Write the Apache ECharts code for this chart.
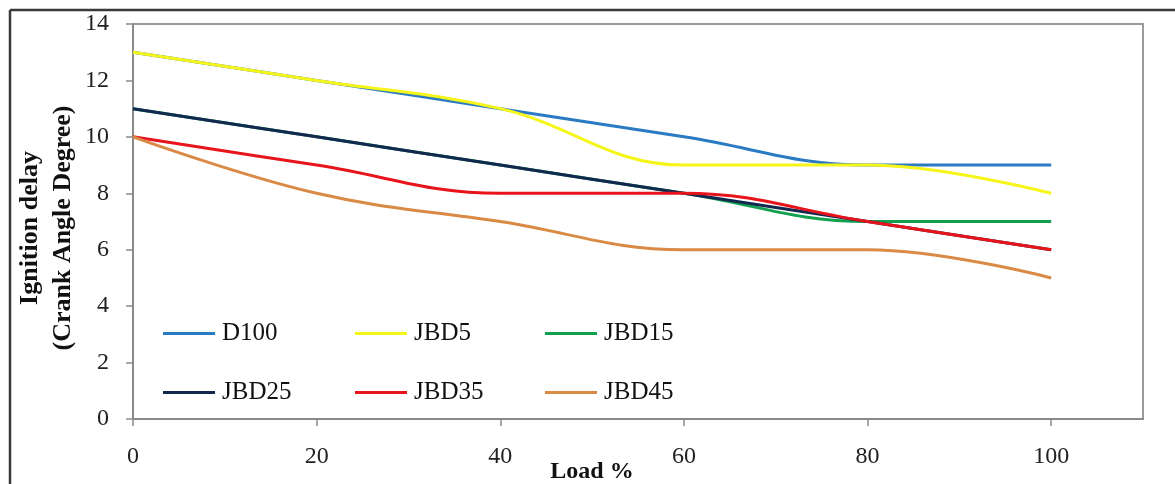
<!DOCTYPE html>
<html>
<head>
<meta charset="utf-8">
<script src="https://cdn.jsdelivr.net/npm/echarts@6/dist/echarts.min.js"></script>
<style>
html,body{margin:0;padding:0;background:#fff;}
#chart{width:1175px;height:484px;}
</style>
</head>
<body>
<div id="chart"></div>
<script>
const loads = [0, 20, 40, 60, 80, 100];
const xTicks = [0, 20, 40, 60, 80, 100];
const yTicks = [0, 2, 4, 6, 8, 10, 12, 14];
const seriesNames = ['D100', 'JBD5', 'JBD15', 'JBD25', 'JBD35', 'JBD45'];
const D100  = [13, 12, 11, 10, 9, 9];
const JBD5  = [13, 12, 11, 9, 9, 8];
const JBD15 = [11, 10, 9, 8, 7, 7];
const JBD25 = [11, 10, 9, 8, 7, 6];
const JBD35 = [10, 9, 8, 8, 7, 6];
const JBD45 = [10, 8, 7, 6, 6, 5];
const allValues = [D100, JBD5, JBD15, JBD25, JBD35, JBD45];
const colors = ['#2a7bc4', '#f5f51a', '#12a04e', '#13284f', '#e8141c', '#d98a45'];

const FONT = '"Liberation Serif", "Times New Roman", serif';
const chart = echarts.init(document.getElementById('chart'));

const legendPos = [
  [163, 333], [355, 333], [545, 333],
  [163, 392], [355, 392], [545, 392]
];

const legends = seriesNames.map((n, i) => ({
  data: [n],
  left: legendPos[i][0],
  top: legendPos[i][1] - 12,
  itemWidth: 52,
  itemHeight: 3,
  itemGap: 0,
  icon: 'rect',
  padding: 0,
  textStyle: { fontFamily: FONT, fontSize: 25, color: '#111', padding: [0, 0, 0, 2] }
}));

const series = seriesNames.map((n, i) => ({
  name: n,
  type: 'line',
  data: loads.map((x, j) => [x, allValues[i][j]]),
  smooth: 0.4,
  showSymbol: false,
  symbol: 'none',
  lineStyle: { width: 3, color: colors[i] },
  itemStyle: { color: colors[i] }
}));

chart.setOption({
  animation: false,
  color: colors,
  legend: legends,
  grid: {
    left: 133, top: 24, right: 32, bottom: 65,
    show: true, borderColor: '#9a9a9a', borderWidth: 2, backgroundColor: '#fff'
  },
  xAxis: {
    type: 'value', min: 0, max: 110, interval: 20,
    splitLine: { show: false },
    axisLine: { show: true, lineStyle: { color: '#8a8a8a', width: 2 } },
    axisTick: { show: true, length: 7, lineStyle: { color: '#8a8a8a', width: 1.5 }, customValues: xTicks },
    axisLabel: { fontFamily: FONT, fontSize: 24, color: '#222', margin: 26, customValues: xTicks }
  },
  yAxis: {
    type: 'value', min: 0, max: 14, interval: 2,
    splitLine: { show: false },
    axisLine: { show: true, lineStyle: { color: '#8a8a8a', width: 2 } },
    axisTick: { show: true, length: 7, lineStyle: { color: '#8a8a8a', width: 1.5 }, customValues: yTicks },
    axisLabel: { fontFamily: FONT, fontSize: 24, color: '#222', margin: 24, customValues: yTicks }
  },
  graphic: [
    { type: 'line', shape: { x1: 10, y1: 10, x2: 1175, y2: 10 }, style: { stroke: '#3a3a3a', lineWidth: 2.5 } },
    { type: 'line', shape: { x1: 10, y1: 10, x2: 10, y2: 484 }, style: { stroke: '#3a3a3a', lineWidth: 2.5 } },
    {
      type: 'text', x: 47, y: 228, rotation: Math.PI / 2,
      style: {
        text: 'Ignition delay\n(Crank Angle Degree)',
        fontFamily: FONT, fontSize: 26, fontWeight: 'bold', fill: '#111',
        align: 'center', verticalAlign: 'middle', lineHeight: 33
      }
    },
    {
      type: 'text', x: 592, y: 472,
      style: {
        text: 'Load %', fontFamily: FONT, fontSize: 24, fontWeight: 'bold', fill: '#111',
        align: 'center', verticalAlign: 'middle'
      }
    }
  ],
  series: series
});
</script>
</body>
</html>
